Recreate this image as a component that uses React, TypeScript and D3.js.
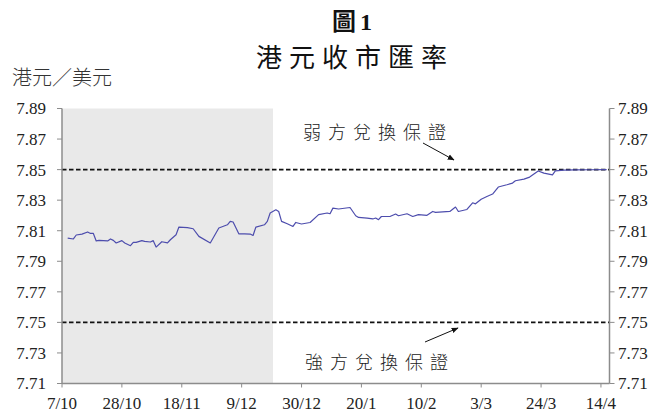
import React from "react";
import * as d3 from "d3";

const dates = [
  "2017-10-09","2017-10-11","2017-10-12","2017-10-14","2017-10-16","2017-10-17","2017-10-18","2017-10-19","2017-10-20",
  "2017-10-23","2017-10-24","2017-10-25","2017-10-26","2017-10-28","2017-10-29","2017-10-31","2017-11-01","2017-11-02",
  "2017-11-04","2017-11-05","2017-11-07","2017-11-08","2017-11-09","2017-11-11","2017-11-13","2017-11-14","2017-11-16",
  "2017-11-17","2017-11-20","2017-11-22","2017-11-24","2017-11-28","2017-11-29","2017-12-01","2017-12-04","2017-12-05",
  "2017-12-06","2017-12-08","2017-12-10","2017-12-12","2017-12-13","2017-12-14","2017-12-17","2017-12-18","2017-12-19",
  "2017-12-21","2017-12-22","2017-12-23","2017-12-25","2017-12-27","2017-12-28","2017-12-30","2018-01-02","2018-01-05",
  "2018-01-08","2018-01-09","2018-01-10","2018-01-12","2018-01-16","2018-01-18","2018-01-19","2018-01-22","2018-01-24",
  "2018-01-25","2018-01-26","2018-01-27","2018-01-30","2018-02-01","2018-02-02","2018-02-05","2018-02-07","2018-02-09",
  "2018-02-12","2018-02-14","2018-02-15","2018-02-20","2018-02-22","2018-02-23","2018-02-26","2018-02-28","2018-03-01",
  "2018-03-03","2018-03-05","2018-03-07","2018-03-09","2018-03-12","2018-03-14","2018-03-15","2018-03-18","2018-03-20",
  "2018-03-23","2018-03-25","2018-03-28","2018-03-29","2018-04-01","2018-04-05","2018-04-10","2018-04-16"
];

const rates = [
  7.8052,7.8046,7.8072,7.8078,7.8092,7.8082,7.8082,7.8033,7.8037,
  7.8033,7.8046,7.8037,7.8020,7.8035,7.8020,7.8002,7.8024,7.8024,
  7.8035,7.8030,7.8026,7.8035,7.7993,7.8028,7.8020,7.8041,7.8074,
  7.8124,7.8120,7.8113,7.8063,7.8020,7.8052,7.8118,7.8139,7.8161,
  7.8157,7.8080,7.8080,7.8078,7.8069,7.8124,7.8139,7.8161,7.8216,
  7.8237,7.8226,7.8161,7.8146,7.8128,7.8154,7.8144,7.8154,7.8205,
  7.8216,7.8211,7.8248,7.8242,7.8252,7.8198,7.8187,7.8183,7.8177,
  7.8183,7.8172,7.8193,7.8193,7.8209,7.8198,7.8211,7.8193,7.8205,
  7.8201,7.8226,7.8220,7.8226,7.8255,7.8226,7.8239,7.8283,7.8276,
  7.8306,7.8324,7.8340,7.8386,7.8401,7.8412,7.8427,7.8438,7.8451,
  7.8491,7.8477,7.8466,7.8492,7.8497,7.8498,7.8499,7.8500
];

const yTicks = [7.71, 7.73, 7.75, 7.77, 7.79, 7.81, 7.83, 7.85, 7.87, 7.89];
const xTickDates = ["2017-10-07","2017-10-28","2017-11-18","2017-12-09","2017-12-30","2018-01-20","2018-02-10","2018-03-03","2018-03-24","2018-04-14"];
const xTickLabels = ["7/10","28/10","18/11","9/12","30/12","20/1","10/2","3/3","24/3","14/4"];
const xDomain = ["2017-10-07", "2018-04-17"];
const shadedPeriod = ["2017-10-07", "2017-12-20"];
const bandLevels = [7.85, 7.75];
const bandLabels = ["弱方兌換保證", "強方兌換保證"];
const titleLines = ["圖", "1", "港元收市匯率"];
const yUnit = "港元／美元";

const parse = d3.timeParse("%Y-%m-%d");
const serif = "'Liberation Serif', 'DejaVu Serif', serif";
const cjk = "'Noto Sans CJK TC', 'Noto Sans CJK SC', sans-serif";

export default function App() {
  const W = 661, H = 412;
  const left = 62, right = 609.5, top = 108.5, bottom = 383.5;
  const x = d3.scaleTime().domain(xDomain.map((d) => parse(d) as Date)).range([left, right]);
  const y = d3.scaleLinear().domain([7.71, 7.89]).range([bottom, top]);
  const pts = dates.map((d, i) => [x(parse(d) as Date), y(rates[i])] as [number, number]);
  const line = d3.line<[number, number]>().x((p) => p[0]).y((p) => p[1]);
  const axisColor = "#8c8c8c";
  const shadeX0 = x(parse(shadedPeriod[0]) as Date);
  const shadeX1 = x(parse(shadedPeriod[1]) as Date);

  return (
    <svg width={W} height={H} style={{ position: "absolute", left: 0, top: 0 }} xmlns="http://www.w3.org/2000/svg">
      <defs>
        <marker id="ah" viewBox="0 0 10 10" refX="9" refY="5" markerWidth="7" markerHeight="7" orient="auto">
          <path d="M0,1 L10,5 L0,9 z" fill="#111" />
        </marker>
      </defs>
      <rect x={0} y={0} width={W} height={H} fill="#fff" />
      {/* title */}
      <text x={352} y={30} textAnchor="middle" fontSize={24} fontWeight={700} fill="#111">
        <tspan fontFamily={cjk}>{titleLines[0]}</tspan>
        <tspan fontFamily={serif} dx={4}>{titleLines[1]}</tspan>
      </text>
      <text x={355} y={67} textAnchor="middle" fontSize={26} fontFamily={cjk} fontWeight={400} letterSpacing={7} fill="#111">
        {titleLines[2]}
      </text>
      <text x={12} y={85} fontSize={20} fontFamily={cjk} fontWeight={300} fill="#333">{yUnit}</text>

      {/* shaded period */}
      <rect x={shadeX0} y={top} width={shadeX1 - shadeX0} height={bottom - top} fill="#e9e9e9" />

      {/* bands */}
      {bandLevels.map((v) => (
        <line key={v} x1={left} x2={right} y1={y(v)} y2={y(v)} stroke="#111" strokeWidth={1.7} strokeDasharray="4.5,2.5" />
      ))}

      {/* series */}
      <path d={line(pts) || ""} fill="none" stroke="#4d4dad" strokeWidth={1.2} strokeLinejoin="round" />

      {/* axes */}
      <line x1={left} x2={left} y1={top} y2={bottom} stroke={axisColor} strokeWidth={1.5} />
      <line x1={right} x2={right} y1={top} y2={bottom} stroke={axisColor} strokeWidth={1.5} />
      <line x1={left} x2={right} y1={bottom} y2={bottom} stroke={axisColor} strokeWidth={1.5} />
      {yTicks.map((t) => (
        <g key={t}>
          <line x1={left - 5} x2={left} y1={y(t)} y2={y(t)} stroke={axisColor} strokeWidth={1} />
          <line x1={right} x2={right + 5} y1={y(t)} y2={y(t)} stroke={axisColor} strokeWidth={1} />
          <text x={46} y={y(t)} dy="0.35em" textAnchor="end" fontSize={17} fontFamily={serif} fill="#222">{t.toFixed(2)}</text>
          <text x={618} y={y(t)} dy="0.35em" textAnchor="start" fontSize={17} fontFamily={serif} fill="#222">{t.toFixed(2)}</text>
        </g>
      ))}
      {xTickDates.map((d, i) => {
        const xx = x(parse(d) as Date);
        return (
          <g key={d}>
            <line x1={xx} x2={xx} y1={bottom} y2={bottom + 4} stroke={axisColor} strokeWidth={1} />
            <text x={xx} y={409} textAnchor="middle" fontSize={17} fontFamily={serif} fill="#222">{xTickLabels[i]}</text>
          </g>
        );
      })}

      {/* annotations */}
      <text x={378} y={139} textAnchor="middle" fontSize={18} fontFamily={cjk} fontWeight={300} letterSpacing={7} fill="#222">{bandLabels[0]}</text>
      <line x1={423} y1={143} x2={454} y2={160} stroke="#111" strokeWidth={1} markerEnd="url(#ah)" />
      <text x={380} y={369} textAnchor="middle" fontSize={18} fontFamily={cjk} fontWeight={300} letterSpacing={7} fill="#222">{bandLabels[1]}</text>
      <line x1={425} y1={342} x2={458} y2={328} stroke="#111" strokeWidth={1} markerEnd="url(#ah)" />
    </svg>
  );
}
